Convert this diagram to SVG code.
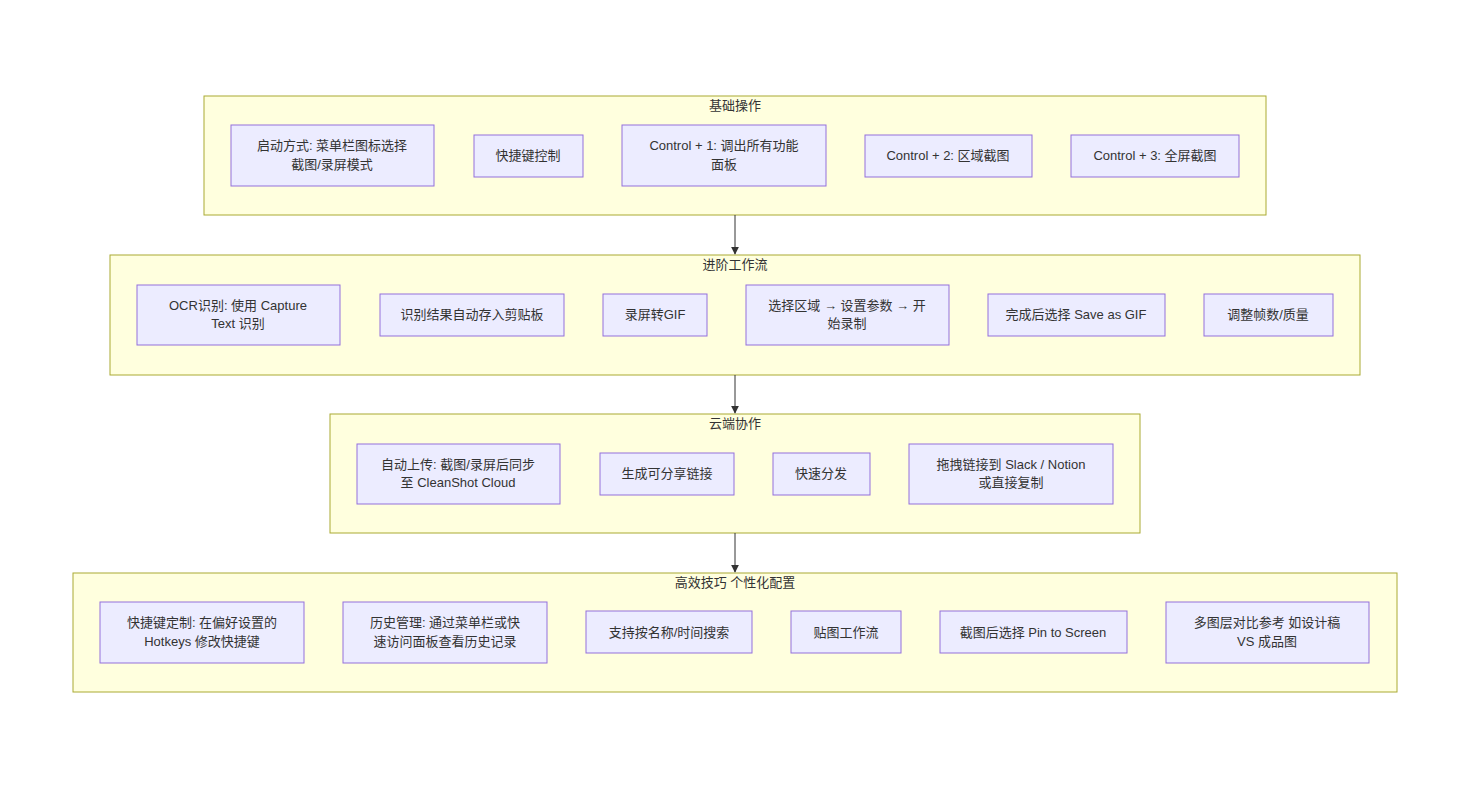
<svg xmlns="http://www.w3.org/2000/svg" width="1457" height="795" viewBox="0 0 1457 795">
<style>
.c{fill:#ffffde;stroke:#aaaa33;stroke-width:1}
.n{fill:#ececff;stroke:#9370db;stroke-width:1}
text{font-family:"Liberation Sans","Noto Sans CJK SC",sans-serif;font-size:13px;fill:#333;text-anchor:middle}
.e{stroke:#333;stroke-width:1;fill:none;marker-end:url(#a)}
</style>
<defs><marker id="a" viewBox="0 0 10 10" refX="9" refY="5" markerWidth="8" markerHeight="8" orient="auto"><path d="M0,0L10,5L0,10z" fill="#333"/></marker></defs>
<rect width="1457" height="795" fill="#fff"/>
<g id="c1"><rect class="c" x="204" y="96" width="1062" height="119"/><text x="735" y="110">基础操作</text></g>
<g id="c2"><rect class="c" x="110" y="255" width="1250" height="120"/><text x="735" y="269">进阶工作流</text></g>
<g id="c3"><rect class="c" x="330" y="414" width="810" height="119"/><text x="735" y="428">云端协作</text></g>
<g id="c4"><rect class="c" x="73" y="573" width="1324" height="119"/><text x="735" y="587">高效技巧 个性化配置</text></g>
<g id="edges">
<path class="e" d="M735,215V254"/><path class="e" d="M735,375V413"/><path class="e" d="M735,533V572"/>
</g>
<g id="n1"><rect class="n" x="231" y="125" width="203" height="61"/><text x="332" y="150">启动方式: 菜单栏图标选择</text><text x="332" y="169">截图/录屏模式</text></g>
<g id="n2"><rect class="n" x="474" y="135" width="109" height="42"/><text x="528" y="160">快捷键控制</text></g>
<g id="n3"><rect class="n" x="622" y="125" width="204" height="61"/><text x="724" y="150">Control + 1: 调出所有功能</text><text x="724" y="169">面板</text></g>
<g id="n4"><rect class="n" x="865" y="135" width="167" height="42"/><text x="948" y="160">Control + 2: 区域截图</text></g>
<g id="n5"><rect class="n" x="1071" y="135" width="168" height="42"/><text x="1155" y="160">Control + 3: 全屏截图</text></g>
<g id="n6"><rect class="n" x="137" y="285" width="203" height="60"/><text x="238" y="310">OCR识别: 使用 Capture</text><text x="238" y="328">Text 识别</text></g>
<g id="n7"><rect class="n" x="380" y="294" width="184" height="42"/><text x="472" y="319">识别结果自动存入剪贴板</text></g>
<g id="n8"><rect class="n" x="603" y="294" width="104" height="42"/><text x="655" y="319">录屏转GIF</text></g>
<g id="n9"><rect class="n" x="746" y="285" width="203" height="60"/><text x="847" y="310">选择区域 → 设置参数 → 开</text><text x="847" y="328">始录制</text></g>
<g id="n10"><rect class="n" x="988" y="294" width="177" height="42"/><text x="1076" y="319">完成后选择 Save as GIF</text></g>
<g id="n11"><rect class="n" x="1204" y="294" width="129" height="42"/><text x="1268" y="319">调整帧数/质量</text></g>
<g id="n12"><rect class="n" x="357" y="444" width="203" height="60"/><text x="458" y="469">自动上传: 截图/录屏后同步</text><text x="458" y="487">至 CleanShot Cloud</text></g>
<g id="n13"><rect class="n" x="600" y="453" width="134" height="42"/><text x="667" y="478">生成可分享链接</text></g>
<g id="n14"><rect class="n" x="773" y="453" width="97" height="42"/><text x="821" y="478">快速分发</text></g>
<g id="n15"><rect class="n" x="909" y="444" width="204" height="60"/><text x="1011" y="469">拖拽链接到 Slack / Notion</text><text x="1011" y="487">或直接复制</text></g>
<g id="n16"><rect class="n" x="100" y="602" width="204" height="61"/><text x="202" y="627">快捷键定制: 在偏好设置的</text><text x="202" y="646">Hotkeys 修改快捷键</text></g>
<g id="n17"><rect class="n" x="343" y="602" width="204" height="61"/><text x="445" y="627">历史管理: 通过菜单栏或快</text><text x="445" y="646">速访问面板查看历史记录</text></g>
<g id="n18"><rect class="n" x="586" y="611" width="166" height="42"/><text x="669" y="637">支持按名称/时间搜索</text></g>
<g id="n19"><rect class="n" x="791" y="611" width="110" height="42"/><text x="846" y="637">贴图工作流</text></g>
<g id="n20"><rect class="n" x="940" y="611" width="187" height="42"/><text x="1033" y="637">截图后选择 Pin to Screen</text></g>
<g id="n21"><rect class="n" x="1166" y="602" width="203" height="61"/><text x="1267" y="627">多图层对比参考 如设计稿</text><text x="1267" y="646">VS 成品图</text></g>
</svg>
